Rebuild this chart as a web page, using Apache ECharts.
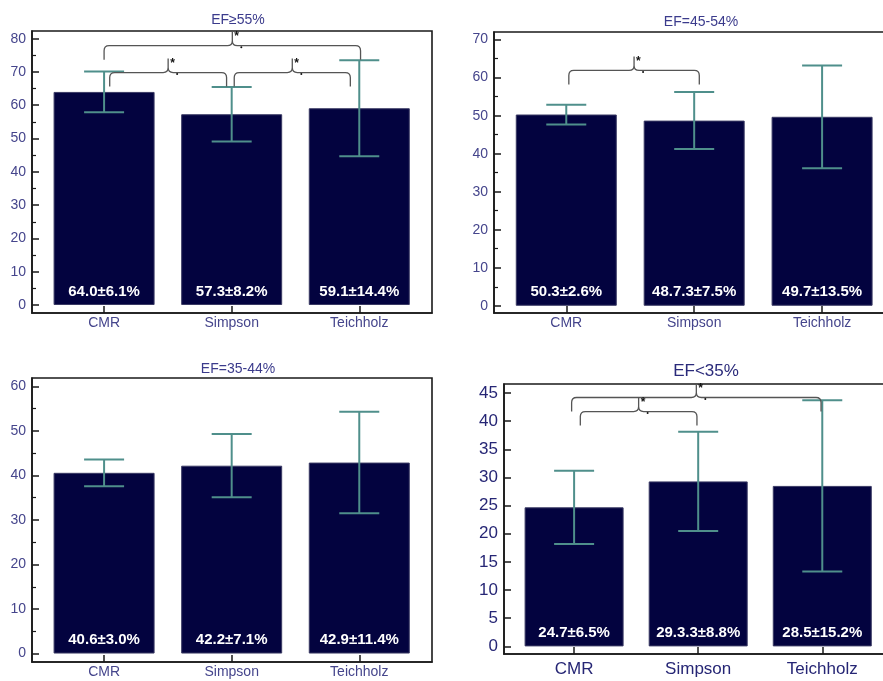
<!DOCTYPE html>
<html>
<head>
<meta charset="utf-8">
<script src="https://cdn.jsdelivr.net/npm/echarts@6/dist/echarts.min.js"></script>
<style>
  html, body { margin: 0; padding: 0; background: #fff; overflow: hidden; }
  #main { width: 910px; height: 681px; }
</style>
</head>
<body>
<div id="main"></div>
<script>
// data
const categories = ['CMR', 'Simpson', 'Teichholz'];
const titles = ['EF≥55%', 'EF=45-54%', 'EF=35-44%', 'EF<35%'];

const meanEF55 = [64.0, 57.3, 59.1];
const sdEF55 = [6.1, 8.2, 14.4];
const labelEF55 = ['64.0±6.1%', '57.3±8.2%', '59.1±14.4%'];

const meanEF45 = [50.3, 48.7, 49.7];
const sdEF45 = [2.6, 7.5, 13.5];
const labelEF45 = ['50.3±2.6%', '48.7.3±7.5%', '49.7±13.5%'];

const meanEF35 = [40.6, 42.2, 42.9];
const sdEF35 = [3.0, 7.1, 11.4];
const labelEF35 = ['40.6±3.0%', '42.2±7.1%', '42.9±11.4%'];

const meanEFlow = [24.7, 29.3, 28.5];
const sdEFlow = [6.5, 8.8, 15.2];
const labelEFlow = ['24.7±6.5%', '29.3.3±8.8%', '28.5±15.2%'];

// tick labels
const ticksEF55 = [0, 10, 20, 30, 40, 50, 60, 70, 80];
const minorEF55 = [5, 15, 25, 35, 45, 55, 65, 75];
const ticksEF45 = [0, 10, 20, 30, 40, 50, 60, 70];
const minorEF45 = [5, 15, 25, 35, 45, 55, 65];
const ticksEF35 = [0, 10, 20, 30, 40, 50, 60];
const minorEF35 = [5, 15, 25, 35, 45, 55];
const ticksEFlow = [0, 5, 10, 15, 20, 25, 30, 35, 40, 45];
const minorEFlow = [];

// significance brackets: [from, to, level]
const bracketsEF55 = [[1.0, 3.01, 77.9], [1.044, 1.96, 69.8], [2.02, 2.93, 69.8]];
const bracketsEF45 = [[1.02, 2.04, 61.9]];
const bracketsEF35 = [];
const bracketsEFlow = [[0.98, 2.99, 44.2], [1.05, 1.99, 41.7]];

const panels = [
  { mean: meanEF55, sd: sdEF55, label: labelEF55, ticks: ticksEF55, minor: minorEF55, brackets: bracketsEF55,
    grid: { left: 32, top: 31, width: 400, height: 282 }, yMin: -2.4, yMax: 82.3, barWidth: 101,
    title: { x: 233, y: 8, size: 14, color: '#3b3b8c' }, axisSize: 14, axisColor: '#45458c', catMargin: 3 },
  { mean: meanEF45, sd: sdEF45, label: labelEF45, ticks: ticksEF45, minor: minorEF45, brackets: bracketsEF45,
    grid: { left: 494, top: 32, width: 401, height: 281 }, yMin: -1.9, yMax: 72.0, barWidth: 101,
    title: { x: 696, y: 10, size: 14, color: '#3b3b8c' }, axisSize: 14, axisColor: '#45458c', catMargin: 3 },
  { mean: meanEF35, sd: sdEF35, label: labelEF35, ticks: ticksEF35, minor: minorEF35, brackets: bracketsEF35,
    grid: { left: 32, top: 378, width: 400, height: 284 }, yMin: -1.9, yMax: 61.9, barWidth: 101,
    title: { x: 233, y: 357, size: 14, color: '#3b3b8c' }, axisSize: 14, axisColor: '#45458c', catMargin: 3 },
  { mean: meanEFlow, sd: sdEFlow, label: labelEFlow, ticks: ticksEFlow, minor: minorEFlow, brackets: bracketsEFlow,
    grid: { left: 504, top: 384, width: 389, height: 270 }, yMin: -1.35, yMax: 46.6, barWidth: 99,
    title: { x: 701, y: 358, size: 17, color: '#2a2a7a' }, axisSize: 17, axisColor: '#262675', catMargin: 7 }
];

const FONT = 'Arial, "Liberation Sans", sans-serif';
const BAR_COLOR = '#03033f';
const ERR_COLOR = '#4f8f8b';

function renderErrorBar(params, api) {
  const x = api.value(0);
  const lo = api.coord([x, api.value(1)]);
  const hi = api.coord([x, api.value(2)]);
  const half = 20;
  const style = { stroke: ERR_COLOR, lineWidth: 2 };
  return {
    type: 'group',
    children: [
      { type: 'line', shape: { x1: lo[0], y1: lo[1], x2: hi[0], y2: hi[1] }, style: style },
      { type: 'line', shape: { x1: lo[0] - half, y1: lo[1], x2: lo[0] + half, y2: lo[1] }, style: style },
      { type: 'line', shape: { x1: hi[0] - half, y1: hi[1], x2: hi[0] + half, y2: hi[1] }, style: style }
    ]
  };
}

function renderBracket(params, api) {
  const a = api.coord([api.value(0), api.value(2)]);
  const b = api.coord([api.value(1), api.value(2)]);
  const y = a[1], m = (a[0] + b[0]) / 2;
  const d = 14, s = 14, r = 5;
  const p = 'M' + a[0] + ' ' + (y + d) + ' L' + a[0] + ' ' + (y + r) +
    ' Q' + a[0] + ' ' + y + ' ' + (a[0] + r) + ' ' + y +
    ' L' + (m - r) + ' ' + y + ' Q' + m + ' ' + y + ' ' + m + ' ' + (y - r) +
    ' L' + m + ' ' + (y - s) +
    ' M' + m + ' ' + (y - r) + ' Q' + m + ' ' + y + ' ' + (m + r) + ' ' + y +
    ' L' + (b[0] - r) + ' ' + y + ' Q' + b[0] + ' ' + y + ' ' + b[0] + ' ' + (y + r) +
    ' L' + b[0] + ' ' + (y + d);
  return {
    type: 'group',
    children: [
      { type: 'path', shape: { pathData: p }, style: { fill: null, stroke: '#555', lineWidth: 1.3 } },
      { type: 'text', x: m + 2, y: y - s - 1,
        style: { text: '*', fill: '#111', font: 'bold 12px ' + FONT, textAlign: 'left', textVerticalAlign: 'top' } },
      { type: 'circle', shape: { cx: m + 9, cy: y + 1.5, r: 1 }, style: { fill: '#111' } }
    ]
  };
}

let myChart = echarts.init(document.getElementById('main'));

const option = {
  animation: false,
  backgroundColor: '#fff',
  title: [],
  grid: [],
  xAxis: [],
  yAxis: [],
  series: []
};

panels.forEach((pn, i) => {
  option.title.push({
    text: titles[i], left: pn.title.x, top: pn.title.y, textAlign: 'center',
    textStyle: { fontFamily: FONT, fontSize: pn.title.size, fontWeight: 'normal', color: pn.title.color }
  });
  option.grid.push(Object.assign({ show: true, borderColor: '#1a1a1a', borderWidth: 1.6, backgroundColor: 'transparent' }, pn.grid));
  option.xAxis.push({
    type: 'value', gridIndex: i, min: 0.435, max: 3.57,
    axisLine: { show: true, onZero: false, lineStyle: { color: '#1a1a1a', width: 1.6 } },
    axisTick: { show: true, inside: true, length: 7, customValues: [1, 2, 3], lineStyle: { color: '#1a1a1a', width: 1.5 } },
    axisLabel: {
      customValues: [1, 2, 3], margin: pn.catMargin,
      formatter: v => categories[Math.round(v) - 1],
      fontFamily: FONT, fontSize: pn.axisSize, color: pn.axisColor
    },
    splitLine: { show: false }
  });
  option.yAxis.push({
    type: 'value', gridIndex: i, position: 'left', min: pn.yMin, max: pn.yMax,
    axisLine: { show: true, onZero: false, lineStyle: { color: '#1a1a1a', width: 1.6 } },
    axisTick: { show: true, inside: true, length: 7, customValues: pn.ticks, lineStyle: { color: '#1a1a1a', width: 1.5 } },
    axisLabel: { customValues: pn.ticks, margin: 6, fontFamily: FONT, fontSize: pn.axisSize, color: pn.axisColor },
    splitLine: { show: false }
  });
  option.yAxis.push({
    type: 'value', gridIndex: i, position: 'left', min: pn.yMin, max: pn.yMax,
    axisLine: { show: false, onZero: false },
    axisTick: { show: pn.minor.length > 0, inside: true, length: 4, customValues: pn.minor, lineStyle: { color: '#1a1a1a', width: 1.2 } },
    axisLabel: { show: false },
    splitLine: { show: false }
  });
  const yIdx = option.yAxis.length - 2;

  option.series.push({
    type: 'bar', xAxisIndex: i, yAxisIndex: yIdx, barWidth: pn.barWidth,
    data: pn.mean.map((v, k) => [k + 1, v]),
    itemStyle: { color: BAR_COLOR, borderColor: '#3a3a64', borderWidth: 1 },
    label: {
      show: true, position: 'insideBottom', distance: 6,
      formatter: p => pn.label[p.dataIndex],
      color: '#fff', fontFamily: FONT, fontSize: 15, fontWeight: 'bold'
    },
    z: 2
  });
  option.series.push({
    type: 'custom', xAxisIndex: i, yAxisIndex: yIdx,
    renderItem: renderErrorBar,
    encode: { x: 0, y: [1, 2] },
    data: pn.mean.map((v, k) => [k + 1, v - pn.sd[k], v + pn.sd[k]]),
    z: 3
  });
  if (pn.brackets.length) {
    option.series.push({
      type: 'custom', xAxisIndex: i, yAxisIndex: yIdx,
      renderItem: renderBracket,
      encode: { x: [0, 1], y: 2 },
      data: pn.brackets,
      clip: false,
      z: 4
    });
  }
});

myChart.setOption(option);
</script>
</body>
</html>
